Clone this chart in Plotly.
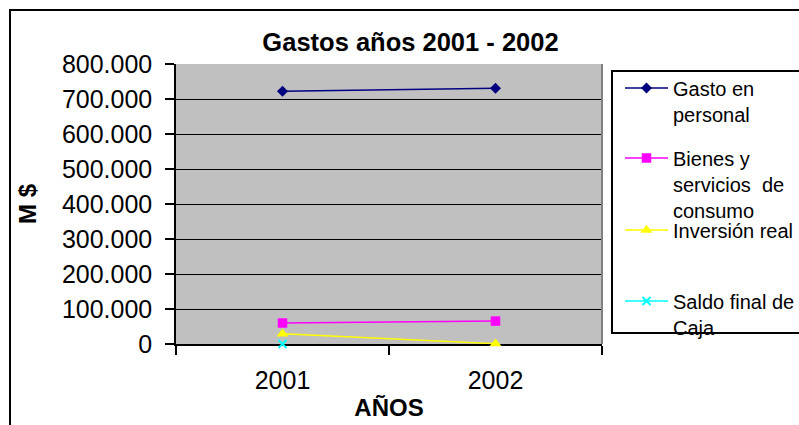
import plotly.graph_objects as go

# ---- data ----
years = ["2001", "2002"]
gasto_personal = [722000, 730500]
bienes_servicios = [60000, 65500]
inversion_real = [29000, 1000]
saldo_caja = [0, None]

series_names = [
    "Gasto en<br>personal",
    "Bienes y<br>servicios\u00a0 de<br>consumo",
    "Inversión real",
    "Saldo final de<br>Caja",
]
y_ticks = [0, 100000, 200000, 300000, 400000, 500000, 600000, 700000, 800000]

# ---- layout geometry (pixels of the 799x425 canvas) ----
W, H = 799, 425
PL, PR, PT, PB = 176, 602, 64, 344  # plot area edges


def px_x(X):
    return (X - PL) / (PR - PL)


def px_y(Y):
    return (PB - Y) / (PB - PT)


FONT = "Liberation Sans, Arial, sans-serif"
LEG_FONT = 20
LEG_LH = LEG_FONT * 1.3
legend_marker_y = [88, 158, 230, 301]
legend_x0 = 620

fig = go.Figure()
styles = [
    dict(color="#000080", symbol="diamond", size=8.5),
    dict(color="#FF00FF", symbol="square", size=9.5),
    dict(color="#FFFF00", symbol="triangle-up", size=10.5),
    dict(color="#00FFFF", symbol="x-thin", size=8),
]
series = [gasto_personal, bienes_servicios, inversion_real, saldo_caja]
legend_ids = ["legend", "legend2", "legend3", "legend4"]

for vals, name, st, lid in zip(series, series_names, styles, legend_ids):
    marker = dict(symbol=st["symbol"], size=st["size"], color=st["color"])
    if st["symbol"] == "x-thin":
        marker["line"] = dict(color=st["color"], width=2)
    fig.add_trace(go.Scatter(
        x=years, y=vals, name=name, mode="lines+markers",
        line=dict(color=st["color"], width=1.5),
        marker=marker, legend=lid, connectgaps=False, cliponaxis=False,
    ))

legend_common = dict(
    xref="paper", yref="paper", xanchor="left", yanchor="top",
    bgcolor="rgba(0,0,0,0)", borderwidth=0, valign="top",
    font=dict(family=FONT, size=LEG_FONT, color="black"),
    itemwidth=43, tracegroupgap=0,
)
legends = {}
for lid, ym in zip(legend_ids, legend_marker_y):
    y0 = ym - 6.5 - LEG_LH / 2
    legends[lid] = dict(legend_common, x=px_x(legend_x0), y=px_y(y0))

fig.update_layout(
    width=W, height=H,
    margin=dict(l=PL, r=W - PR, t=PT, b=H - PB, autoexpand=False),
    paper_bgcolor="white",
    plot_bgcolor="#C0C0C0",
    separators=",.",
    font=dict(family=FONT, color="black"),
    showlegend=True,
    title=dict(
        text="<b>Gastos años 2001 - 2002</b>",
        font=dict(family=FONT, size=25.5, color="black"),
        xref="paper", x=px_x(410.5), xanchor="center",
        yref="container", y=1 - 42 / H, yanchor="middle",
    ),
    xaxis=dict(
        type="category", range=[-0.5, 1.5], tickson="boundaries",
        ticks="outside", ticklen=9, tickwidth=1.5, tickcolor="black",
        showline=True, linecolor="black", linewidth=1.5,
        showgrid=False, zeroline=False, layer="below traces",
        tickfont=dict(family=FONT, size=25, color="black"),
        ticklabelstandoff=13,
        title=dict(text="<b>AÑOS</b>", font=dict(family=FONT, size=24, color="black"), standoff=6),
    ),
    yaxis=dict(
        range=[0, 800000], tickvals=y_ticks, tickformat=",d",
        ticks="outside", ticklen=9, tickwidth=1.5, tickcolor="black",
        showline=True, linecolor="black", linewidth=1.5,
        showgrid=True, gridcolor="black", gridwidth=1.2, zeroline=False,
        layer="below traces",
        tickfont=dict(family=FONT, size=25, color="black"),
        ticklabelstandoff=8,
        title=dict(text="<b>M $</b>", font=dict(family=FONT, size=24, color="black"), standoff=18),
    ),
    shapes=[
        # plot-area right border (gray)
        dict(type="line", xref="paper", yref="paper", x0=1, x1=1, y0=0, y1=1,
             line=dict(color="#808080", width=2)),
        # legend box
        dict(type="rect", xref="paper", yref="paper",
             x0=px_x(612), x1=px_x(900), y0=px_y(333), y1=px_y(71),
             line=dict(color="black", width=2), fillcolor="rgba(0,0,0,0)"),
        # chart outer border
        dict(type="rect", xref="paper", yref="paper",
             x0=px_x(10), x1=px_x(900), y0=px_y(500), y1=px_y(10),
             line=dict(color="black", width=2), fillcolor="rgba(0,0,0,0)"),
    ],
    **legends,
)

fig.write_html(
    "out.html",
    config={"displayModeBar": False},
    post_script="document.body.style.margin='0';document.body.style.overflow='hidden';",
)
